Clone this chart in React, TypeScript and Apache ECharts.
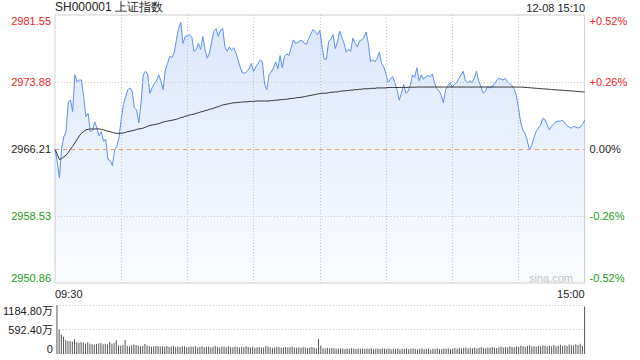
import React, { useEffect, useRef } from "react";
import * as echarts from "echarts";

const TITLE = "SH000001 上证指数";
const STAMP = "12-08 15:10";
const PREV_CLOSE = 2966.21;
const PRICE_TICKS = [2950.86, 2958.53, 2966.21, 2973.88, 2981.55];
const VOL_TICKS = [0, 592.4, 1184.8];
const X_LABELS_SHOWN = ["09:30", "15:00"];

const timeLabels: string[] = [];
const pad = (n: number) => (n < 10 ? "0" + n : "" + n);
for (let m = 0; m <= 120; m++) {
  const t = 9 * 60 + 30 + m;
  timeLabels.push(pad(Math.floor(t / 60)) + ":" + pad(t % 60));
}
for (let m = 1; m <= 120; m++) {
  const t = 13 * 60 + m;
  timeLabels.push(pad(Math.floor(t / 60)) + ":" + pad(t % 60));
}

const price = [
  2966.21, 2964.8, 2962.9, 2966.3, 2967.6, 2968.2, 2971.6, 2971.8, 2970.5, 2974.7,
  2973.9, 2974.1, 2974.1, 2972.2, 2969.9, 2970.3, 2968.2, 2968.3, 2969.3, 2968.6,
  2967.7, 2968.2, 2967.1, 2967.3, 2965.0, 2964.9, 2964.3, 2966.1, 2966.5, 2967.5,
  2969.6, 2971.3, 2972.2, 2973.0, 2973.2, 2972.8, 2970.9, 2970.7, 2969.2, 2971.5,
  2974.7, 2975.1, 2974.8, 2972.6, 2973.2, 2973.7, 2974.0, 2974.7, 2974.0, 2973.0,
  2975.3, 2976.0, 2976.8, 2976.7, 2977.2, 2978.7, 2980.0, 2980.7, 2978.3, 2979.1,
  2979.2, 2979.3, 2979.0, 2977.4, 2977.6, 2978.3, 2977.6, 2979.1, 2977.6, 2976.6,
  2977.2, 2978.5, 2979.7, 2980.0, 2979.1, 2979.8, 2980.0, 2977.9, 2977.4, 2977.9,
  2977.5, 2977.8, 2977.2, 2976.4, 2975.5, 2974.9, 2974.9, 2975.1, 2975.4, 2976.0,
  2975.1, 2975.6, 2976.0, 2976.4, 2976.2, 2973.6, 2973.0, 2974.7, 2975.0, 2975.5,
  2976.2, 2975.4, 2976.9, 2975.5, 2976.8, 2977.1, 2976.9, 2977.8, 2978.7, 2978.3,
  2978.4, 2978.6, 2978.6, 2978.3, 2978.2, 2978.9, 2979.4, 2979.9, 2979.6, 2979.3,
  2979.8, 2978.0, 2976.5, 2976.5, 2978.5, 2978.8, 2979.3, 2977.7, 2978.5, 2979.7,
  2979.0, 2978.3, 2977.3, 2977.6, 2977.4, 2978.9, 2978.3, 2977.9, 2978.6, 2978.7,
  2979.0, 2979.6, 2978.3, 2976.2, 2976.4, 2976.2, 2976.6, 2977.3, 2976.0, 2975.6,
  2974.8, 2973.8, 2974.2, 2974.5, 2973.8, 2973.0, 2971.8, 2972.6, 2973.6, 2972.6,
  2972.8, 2973.5, 2974.7, 2974.4, 2975.5, 2974.0, 2974.7, 2974.2, 2974.5, 2974.6,
  2974.5, 2974.8, 2973.8, 2973.1, 2972.9, 2972.4, 2971.5, 2973.0, 2973.4, 2973.8,
  2973.3, 2973.6, 2973.8, 2974.3, 2974.7, 2975.1, 2974.0, 2973.8, 2974.0, 2973.8,
  2974.3, 2975.1, 2974.0, 2973.4, 2972.6, 2972.8, 2973.4, 2973.2, 2973.4, 2973.6,
  2974.0, 2974.3, 2974.2, 2974.1, 2974.3, 2973.9, 2973.7, 2973.5, 2973.1, 2972.4,
  2971.0, 2969.3, 2968.4, 2968.0, 2967.2, 2966.1, 2966.6, 2967.5, 2968.2, 2968.6,
  2968.9, 2969.7, 2969.6, 2969.0, 2968.4, 2968.8, 2969.1, 2969.3, 2969.4, 2969.4,
  2969.5, 2969.2, 2968.9, 2968.7, 2968.6, 2968.8, 2968.7, 2968.6, 2968.7, 2969.0,
  2969.5,
];

const avgPrice = [
  2966.21, 2965.6, 2965.0, 2965.1, 2965.3, 2965.5, 2965.8, 2966.2, 2966.5, 2966.9,
  2967.3, 2967.7, 2968.0, 2968.2, 2968.4, 2968.45, 2968.5, 2968.5, 2968.5, 2968.5,
  2968.5, 2968.45, 2968.4, 2968.3, 2968.25, 2968.2, 2968.1, 2968.05, 2968.0, 2968.0,
  2968.0, 2968.05, 2968.1, 2968.2, 2968.25, 2968.3, 2968.35, 2968.45, 2968.5, 2968.55,
  2968.6, 2968.7, 2968.8, 2968.9, 2968.95, 2969.0, 2969.05, 2969.1, 2969.2, 2969.3,
  2969.35, 2969.4, 2969.45, 2969.5, 2969.55, 2969.6, 2969.7, 2969.8, 2969.85, 2969.95,
  2970.0, 2970.1, 2970.15, 2970.2, 2970.3, 2970.35, 2970.45, 2970.5, 2970.6, 2970.65,
  2970.75, 2970.8, 2970.9, 2971.0, 2971.05, 2971.15, 2971.25, 2971.3, 2971.35, 2971.4,
  2971.45, 2971.5, 2971.5, 2971.55, 2971.55, 2971.6, 2971.6, 2971.6, 2971.65, 2971.65,
  2971.65, 2971.7, 2971.7, 2971.7, 2971.7, 2971.7, 2971.7, 2971.7, 2971.75, 2971.75,
  2971.8, 2971.8, 2971.85, 2971.85, 2971.9, 2971.9, 2971.95, 2972.0, 2972.0, 2972.05,
  2972.1, 2972.1, 2972.15, 2972.2, 2972.25, 2972.3, 2972.35, 2972.4, 2972.45, 2972.5,
  2972.55, 2972.6, 2972.6, 2972.6, 2972.65, 2972.7, 2972.7, 2972.75, 2972.75, 2972.8,
  2972.85, 2972.85, 2972.9, 2972.9, 2972.95, 2972.95, 2973.0, 2973.0, 2973.05, 2973.05,
  2973.1, 2973.1, 2973.1, 2973.15, 2973.15, 2973.15, 2973.2, 2973.2, 2973.2, 2973.2,
  2973.2, 2973.25, 2973.25, 2973.25, 2973.25, 2973.25, 2973.25, 2973.25, 2973.25, 2973.25,
  2973.28, 2973.28, 2973.28, 2973.28, 2973.3, 2973.3, 2973.3, 2973.3, 2973.3, 2973.3,
  2973.3, 2973.3, 2973.3, 2973.3, 2973.3, 2973.3, 2973.3, 2973.3, 2973.3, 2973.3,
  2973.3, 2973.3, 2973.3, 2973.3, 2973.3, 2973.3, 2973.3, 2973.3, 2973.3, 2973.3,
  2973.3, 2973.3, 2973.3, 2973.3, 2973.3, 2973.3, 2973.3, 2973.3, 2973.3, 2973.3,
  2973.3, 2973.3, 2973.3, 2973.3, 2973.3, 2973.3, 2973.3, 2973.3, 2973.3, 2973.3,
  2973.3, 2973.3, 2973.28, 2973.26, 2973.24, 2973.22, 2973.2, 2973.18, 2973.16, 2973.14,
  2973.12, 2973.1, 2973.08, 2973.06, 2973.04, 2973.02, 2973.0, 2972.98, 2972.96, 2972.95,
  2972.93, 2972.91, 2972.89, 2972.87, 2972.85, 2972.83, 2972.81, 2972.79, 2972.77, 2972.75,
  2972.73,
];

// volume in 万
const volume = [
  1184.8, 600, 470, 420, 335, 315, 310, 305, 355, 285,
  270, 290, 280, 255, 285, 245, 235, 225, 240, 255,
  265, 235, 250, 230, 290, 250, 265, 335, 205, 200,
  215, 340, 200, 190, 210, 230, 215, 200, 185, 200,
  240, 205, 190, 175, 180, 195, 185, 180, 190, 175,
  195, 170, 180, 200, 175, 180, 170, 190, 185, 165,
  170, 180, 175, 190, 160, 170, 185, 165, 175, 180,
  160, 175, 195, 170, 160, 180, 175, 165, 190, 170,
  165, 180, 170, 160, 175, 165, 185, 170, 160, 175,
  150, 165, 170, 155, 160, 200, 180, 165, 150, 160,
  175, 165, 150, 160, 170, 155, 165, 175, 160, 150,
  160, 150, 165, 155, 145, 160, 170, 150, 140, 360,
  200, 140, 135, 150, 130, 145, 140, 125, 135, 140,
  130, 120, 135, 125, 140, 130, 120, 135, 125, 130,
  120, 130, 125, 140, 115, 125, 130, 120, 135, 125,
  120, 130, 115, 125, 120, 135, 110, 125, 120, 130,
  115, 125, 135, 120, 110, 125, 130, 115, 120, 135,
  110, 125, 120, 130, 115, 120, 135, 125, 140, 120,
  130, 145, 125, 150, 135, 145, 160, 130, 150, 140,
  155, 135, 150, 165, 145, 140, 160, 150, 170, 155,
  145, 165, 180, 155, 170, 160, 185, 170, 165, 190,
  175, 200, 185, 170, 195, 210, 180, 190, 175, 200,
  185, 210, 195, 180, 205, 190, 215, 185, 200, 225,
  200, 215, 195, 230, 210, 205, 240, 220, 245, 200,
  1150,
];

const RED = "#f01e1e";
const GREEN = "#1a9e1a";
const FONT = '"Liberation Sans", Arial, "Noto Sans CJK SC", sans-serif';

const colorFor = (v: number) =>
  Math.abs(v - PREV_CLOSE) < 0.005 ? "#222" : v > PREV_CLOSE ? RED : GREEN;

export default function App() {
  const ref = useRef<HTMLDivElement>(null);
  useEffect(() => {
    document.body.style.margin = "0";
    const chart = echarts.init(ref.current!, null, { renderer: "svg" });
    const dotted = { color: "#c8c8c8", type: [1, 2] as any, width: 1 };
    const option: any = {
      animation: false,
      textStyle: { fontFamily: FONT },
      grid: [
        { left: 55, top: 15, width: 529.6, height: 268, show: true, borderColor: "#cfcfcf", borderWidth: 1 },
        { left: 55, top: 305, width: 529.6, height: 49 },
      ],
      xAxis: [
        {
          type: "category",
          gridIndex: 0,
          data: timeLabels,
          boundaryGap: false,
          axisLine: { show: false },
          axisTick: { show: false },
          axisLabel: {
            interval: (_i: number, v: string) => X_LABELS_SHOWN.indexOf(v) >= 0,
            alignMinLabel: "left",
            alignMaxLabel: "right",
            color: "#222",
            fontSize: 11,
            margin: 5,
            fontFamily: FONT,
          },
          splitLine: {
            show: true,
            interval: (i: number) => i > 0 && i < timeLabels.length - 1 && i % 30 === 0,
            lineStyle: dotted,
          },
        },
        {
          type: "category",
          gridIndex: 1,
          data: timeLabels,
          boundaryGap: false,
          axisLine: { show: false },
          axisTick: { show: false },
          axisLabel: { show: false },
          splitLine: { show: false },
        },
      ],
      yAxis: [
        {
          type: "value",
          gridIndex: 0,
          position: "left",
          min: PRICE_TICKS[0],
          max: PRICE_TICKS[PRICE_TICKS.length - 1],
          axisLine: { show: false },
          axisTick: { show: false },
          splitLine: { show: false },
          axisLabel: {
            customValues: PRICE_TICKS,
            formatter: (v: number) => v.toFixed(2),
            color: (v: any) => colorFor(Number(v)),
            fontSize: 11,
            margin: 4,
            verticalAlignMinLabel: "bottom",
            verticalAlignMaxLabel: "top",
            fontFamily: FONT,
          },
        },
        {
          type: "value",
          gridIndex: 0,
          position: "right",
          min: PRICE_TICKS[0],
          max: PRICE_TICKS[PRICE_TICKS.length - 1],
          axisLine: { show: false },
          axisTick: { show: false },
          splitLine: { show: false },
          axisLabel: {
            customValues: PRICE_TICKS,
            formatter: (v: number) => {
              const p = ((v - PREV_CLOSE) / PREV_CLOSE) * 100;
              if (Math.abs(p) < 0.005) return "0.00%";
              return (p > 0 ? "+" : "") + p.toFixed(2) + "%";
            },
            color: (v: any) => colorFor(Number(v)),
            fontSize: 11,
            margin: 5,
            verticalAlignMinLabel: "bottom",
            verticalAlignMaxLabel: "top",
            fontFamily: FONT,
          },
        },
        {
          type: "value",
          gridIndex: 1,
          min: VOL_TICKS[0],
          max: VOL_TICKS[VOL_TICKS.length - 1],
          axisLine: { show: false },
          axisTick: { show: false },
          splitLine: { show: false },
          axisLabel: {
            customValues: VOL_TICKS,
            formatter: (v: number) => (v === 0 ? "0" : v.toFixed(2) + "万"),
            color: "#222",
            fontSize: 11,
            margin: 4,
            verticalAlignMinLabel: "bottom",
            verticalAlignMaxLabel: "top",
            fontFamily: FONT,
          },
        },
      ],
      graphic: [
        {
          type: "text",
          left: 55,
          top: 1,
          style: { text: TITLE, fontSize: 12, fill: "#222", font: "12px " + FONT },
        },
        {
          type: "text",
          right: 55,
          top: 2,
          style: { text: STAMP, fill: "#222", font: "11px " + FONT },
        },
        {
          type: "text",
          right: 67,
          top: 272,
          style: { text: "sina.com", fill: "#c4c4c4", font: "11px " + FONT },
        },
      ],
      series: [
        {
          type: "line",
          xAxisIndex: 0,
          yAxisIndex: 0,
          data: price,
          symbol: "none",
          lineStyle: { color: "#5a8ff2", width: 1 },
          itemStyle: { color: "#5a8ff2" },
          areaStyle: {
            origin: "start",
            color: new echarts.graphic.LinearGradient(0, 0, 0, 1, [
              { offset: 0, color: "rgba(90,143,242,0.30)" },
              { offset: 1, color: "rgba(90,143,242,0.05)" },
            ]),
          },
          markLine: {
            silent: true,
            symbol: "none",
            label: { show: false },
            data: [
              { yAxis: PRICE_TICKS[3], lineStyle: dotted },
              { yAxis: PRICE_TICKS[1], lineStyle: dotted },
              { yAxis: PREV_CLOSE, lineStyle: { color: "#ec9a6e", type: [4, 4], width: 1 } },
            ],
          },
          z: 2,
        },
        {
          type: "line",
          xAxisIndex: 0,
          yAxisIndex: 0,
          data: avgPrice,
          symbol: "none",
          lineStyle: { color: "#333", width: 1 },
          itemStyle: { color: "#333" },
          z: 3,
        },
        {
          type: "bar",
          xAxisIndex: 1,
          yAxisIndex: 2,
          data: volume,
          barWidth: 1,
          itemStyle: { color: "#555" },
          markLine: {
            silent: true,
            symbol: "none",
            label: { show: false },
            data: [
              { yAxis: VOL_TICKS[1], lineStyle: dotted },
              { yAxis: VOL_TICKS[2], lineStyle: dotted },
            ],
          },
        },
      ],
    };
    chart.setOption(option);
    return () => chart.dispose();
  }, []);
  return <div ref={ref} style={{ width: 640, height: 360 }} />;
}
